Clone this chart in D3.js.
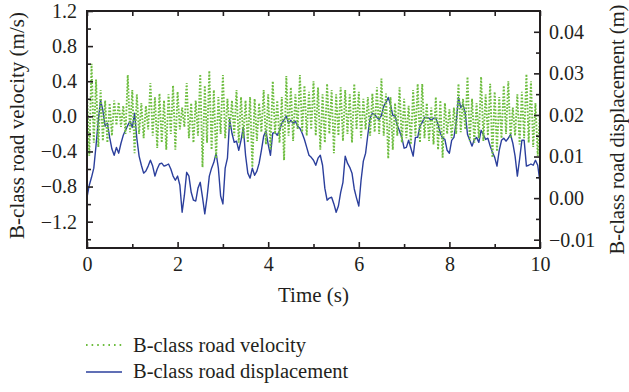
<!DOCTYPE html>
<html>
<head>
<meta charset="utf-8">
<script src="https://cdn.jsdelivr.net/npm/d3@7"></script>
<style>
  body { margin: 0; background: #fff; }
  text { font-family: "Liberation Serif", "Times New Roman", serif; fill: #231f20; }
</style>
</head>
<body>
<div id="chart"></div>
<script>
// sampling step of both series (s)
const step = 0.05;

// B-class road velocity (m/s)
const velocity = [
  0.28, -0.45, 0.60, -0.30, 0.42, -0.35, 0.30, -0.28, 0.18, -0.30,
  0.15, -0.22, 0.18, -0.10, 0.16, -0.12, 0.12, -0.20, 0.47, -0.18,
  0.30, -0.42, 0.25, -0.20, 0.15, -0.25, 0.12, -0.15, 0.38, -0.22,
  0.22, -0.36, 0.26, -0.30, 0.18, -0.38, 0.25, -0.20, 0.35, -0.38,
  0.28, -0.15, 0.10, -0.12, 0.38, -0.25, 0.15, -0.30, 0.18, -0.22,
  0.48, -0.58, 0.35, -0.30, 0.52, -0.38, 0.30, -0.48, 0.22, -0.20,
  0.47, -0.25, 0.20, -0.15, 0.18, -0.22, 0.30, -0.30, 0.22, -0.25,
  0.18, -0.30, 0.22, -0.58, 0.20, -0.28, 0.15, -0.18, 0.30, -0.32,
  0.25, -0.38, 0.40, -0.20, 0.18, -0.30, 0.22, -0.50, 0.46, -0.22,
  0.33, -0.28, 0.25, -0.15, 0.47, -0.18, 0.35, -0.22, 0.28, -0.15,
  0.40, -0.22, 0.33, -0.38, 0.25, -0.30, 0.37, -0.20, 0.30, -0.42,
  0.25, -0.22, 0.33, -0.28, 0.30, -0.20, 0.25, -0.30, 0.37, -0.15,
  0.28, -0.25, 0.20, -0.15, 0.22, -0.22, 0.26, -0.18, 0.33, -0.20,
  0.43, -0.22, 0.26, -0.48, 0.22, -0.38, 0.15, -0.22, 0.33, -0.30,
  0.20, -0.25, 0.12, -0.32, 0.30, -0.22, 0.37, -0.30, 0.37, -0.25,
  0.15, -0.28, 0.10, -0.32, 0.22, -0.38, 0.18, -0.47, 0.15, -0.20,
  0.08, -0.25, 0.10, -0.20, 0.37, -0.18, 0.20, -0.15, 0.45, -0.28,
  0.20, -0.30, 0.15, -0.25, 0.45, -0.28, 0.25, -0.22, 0.37, -0.47,
  0.28, -0.40, 0.22, -0.25, 0.35, -0.20, 0.40, -0.25, 0.10, -0.22,
  0.25, -0.32, 0.28, -0.25, 0.48, -0.30, 0.40, -0.35, 0.15, -0.45,
  0.05
];

// B-class road displacement (m)
const displacement = [
  0.0002, 0.0031, 0.0050, 0.0072, 0.0127, 0.0187, 0.0235, 0.0211, 0.0173, 0.0180,
  0.0146, 0.0118, 0.0103, 0.0122, 0.0108, 0.0132, 0.0151, 0.0163, 0.0175, 0.0185,
  0.0170, 0.0204, 0.0144, 0.0101, 0.0079, 0.0060, 0.0065, 0.0077, 0.0091, 0.0077,
  0.0053, 0.0070, 0.0082, 0.0084, 0.0077, 0.0079, 0.0082, 0.0070, 0.0053, 0.0043,
  0.0053, 0.0031, -0.0034, 0.0007, 0.0062, 0.0053, 0.0014, -0.0005, -0.0007, 0.0024,
  0.0038, 0.0002, -0.0038, 0.0002, 0.0053, 0.0072, 0.0086, 0.0108, 0.0072, 0.0005,
  -0.0014, 0.0072, 0.0096, 0.0189, 0.0156, 0.0134, 0.0137, 0.0115, 0.0139, 0.0170,
  0.0103, 0.0060, 0.0048, 0.0072, 0.0055, 0.0065, 0.0084, 0.0115, 0.0149, 0.0161,
  0.0129, 0.0103, 0.0156, 0.0158, 0.0151, 0.0163, 0.0180, 0.0189, 0.0197, 0.0180,
  0.0187, 0.0180, 0.0185, 0.0173, 0.0168, 0.0156, 0.0141, 0.0122, 0.0103, 0.0098,
  0.0091, 0.0079, 0.0096, 0.0103, 0.0079, 0.0024, -0.0005, 0.0000, 0.0002, -0.0014,
  -0.0034, -0.0019, 0.0014, 0.0038, 0.0101, 0.0084, 0.0074, 0.0060, 0.0022, 0.0000,
  -0.0019, 0.0043, 0.0089, 0.0108, 0.0153, 0.0192, 0.0204, 0.0201, 0.0194, 0.0189,
  0.0199, 0.0221, 0.0230, 0.0242, 0.0225, 0.0199, 0.0197, 0.0175, 0.0161, 0.0146,
  0.0120, 0.0122, 0.0139, 0.0120, 0.0101, 0.0146, 0.0146, 0.0173, 0.0182, 0.0194,
  0.0194, 0.0192, 0.0187, 0.0192, 0.0192, 0.0177, 0.0156, 0.0144, 0.0141, 0.0115,
  0.0108, 0.0139, 0.0146, 0.0182, 0.0242, 0.0218, 0.0225, 0.0204, 0.0153, 0.0139,
  0.0125, 0.0141, 0.0146, 0.0134, 0.0163, 0.0153, 0.0141, 0.0144, 0.0125, 0.0110,
  0.0098, 0.0077, 0.0115, 0.0139, 0.0144, 0.0137, 0.0144, 0.0153, 0.0132, 0.0101,
  0.0053, 0.0094, 0.0139, 0.0139, 0.0077, 0.0079, 0.0082, 0.0079, 0.0091, 0.0079,
  0.0038
];

const xTicks = [0, 2, 4, 6, 8, 10];
const xMinor = [1, 3, 5, 7, 9];
const vTicks = [-1.2, -0.8, -0.4, 0.0, 0.4, 0.8, 1.2];
const vMinor = [-1.4, -1.0, -0.6, -0.2, 0.2, 0.6, 1.0];
const dTicks = [-0.01, 0.00, 0.01, 0.02, 0.03, 0.04];
const dMinor = [-0.005, 0.005, 0.015, 0.025, 0.035];
const legendLabels = ["B-class road velocity", "B-class road displacement"];

const green = "#6dbd3f", blue = "#2b3f9c", ink = "#231f20";

// set the dimensions and margins of the graph
const margin = {top: 11, right: 89, bottom: 144, left: 87},
    width = 629 - margin.left - margin.right,
    height = 392 - margin.top - margin.bottom;

const root = d3.select("#chart")
  .append("svg")
    .attr("width", 629)
    .attr("height", 392);

const svg = root.append("g")
    .attr("transform", `translate(${margin.left}, ${margin.top})`);

const time = velocity.map((d, i) => i * step);

const x = d3.scaleLinear().domain([0, 10]).range([0, width]);
const yV = d3.scaleLinear().domain([-1.5, 1.2]).range([height, 0]);
const yD = d3.scaleLinear().domain([-0.012, 0.045]).range([height, 0]);

svg.append("clipPath").attr("id", "clip")
  .append("rect").attr("width", width).attr("height", height);

// displacement first, velocity dots on top
svg.append("path")
  .datum(displacement)
  .attr("clip-path", "url(#clip)")
  .attr("fill", "none")
  .attr("stroke", blue)
  .attr("stroke-width", 1.4)
  .attr("stroke-linejoin", "round")
  .attr("d", d3.line().x((d, i) => x(time[i])).y(d => yD(d)));

svg.append("path")
  .datum(velocity)
  .attr("clip-path", "url(#clip)")
  .attr("fill", "none")
  .attr("stroke", green)
  .attr("stroke-width", 1.9)
  .attr("stroke-dasharray", "1.7,1.6")
  .attr("d", d3.line().x((d, i) => x(time[i])).y(d => yV(d)));

// axes, ticks pointing inward
function styleAxis(g) {
  g.select(".domain").remove();
  g.selectAll(".tick line").attr("stroke", ink).attr("stroke-width", 1.6);
  g.selectAll(".tick text").style("font-size", "20px")
    .style("font-family", "'Liberation Serif', serif").attr("fill", ink);
}

svg.append("g")
  .attr("transform", `translate(0, ${height})`)
  .call(d3.axisBottom(x).tickValues(xTicks).tickSize(-6).tickPadding(9).tickFormat(d3.format("d")))
  .call(styleAxis);
svg.append("g")
  .attr("transform", `translate(0, ${height})`)
  .call(d3.axisBottom(x).tickValues(xMinor).tickSize(-4).tickFormat(""))
  .call(styleAxis);
svg.append("g")
  .call(d3.axisTop(x).tickValues(xTicks.concat(xMinor)).tickSize(-5).tickFormat(""))
  .call(styleAxis);

svg.append("g")
  .call(d3.axisLeft(yV).tickValues(vTicks).tickSize(-6).tickPadding(10).tickFormat(d3.format(".1f")))
  .call(styleAxis);
svg.append("g")
  .call(d3.axisLeft(yV).tickValues(vMinor).tickSize(-4).tickFormat(""))
  .call(styleAxis);

svg.append("g")
  .attr("transform", `translate(${width}, 0)`)
  .call(d3.axisRight(yD).tickValues(dTicks).tickSize(-6).tickPadding(9).tickFormat(d3.format(".2f")))
  .call(styleAxis);
svg.append("g")
  .attr("transform", `translate(${width}, 0)`)
  .call(d3.axisRight(yD).tickValues(dMinor).tickSize(-4).tickFormat(""))
  .call(styleAxis);

// frame
svg.append("rect")
  .attr("width", width).attr("height", height)
  .attr("fill", "none").attr("stroke", ink).attr("stroke-width", 2);

// axis titles
svg.append("text")
  .attr("x", width / 2).attr("y", height + 54)
  .attr("text-anchor", "middle")
  .style("font-size", "21px")
  .text("Time (s)");

svg.append("text")
  .attr("transform", `translate(${-63}, ${height / 2 - 4}) rotate(-90)`)
  .attr("text-anchor", "middle")
  .style("font-size", "21px")
  .text("B-class road velocity (m/s)");

svg.append("text")
  .attr("transform", `translate(${width + 84}, ${height / 2}) rotate(-90)`)
  .attr("text-anchor", "middle")
  .style("font-size", "20.5px")
  .text("B-class road displacement (m)");

// legend
const legend = root.append("g").attr("transform", "translate(86, 345)");
legend.append("line")
  .attr("x1", 0).attr("x2", 36).attr("y1", 0).attr("y2", 0)
  .attr("stroke", green).attr("stroke-width", 1.8).attr("stroke-dasharray", "1.6,4");
legend.append("line")
  .attr("x1", 0).attr("x2", 36).attr("y1", 27).attr("y2", 27)
  .attr("stroke", blue).attr("stroke-width", 1.6);
legend.selectAll("text.lbl")
  .data(legendLabels)
  .join("text")
    .attr("class", "lbl")
    .attr("x", 47)
    .attr("y", (d, i) => 7 + i * 26)
    .style("font-size", "20.5px")
    .text(d => d);
</script>
</body>
</html>
